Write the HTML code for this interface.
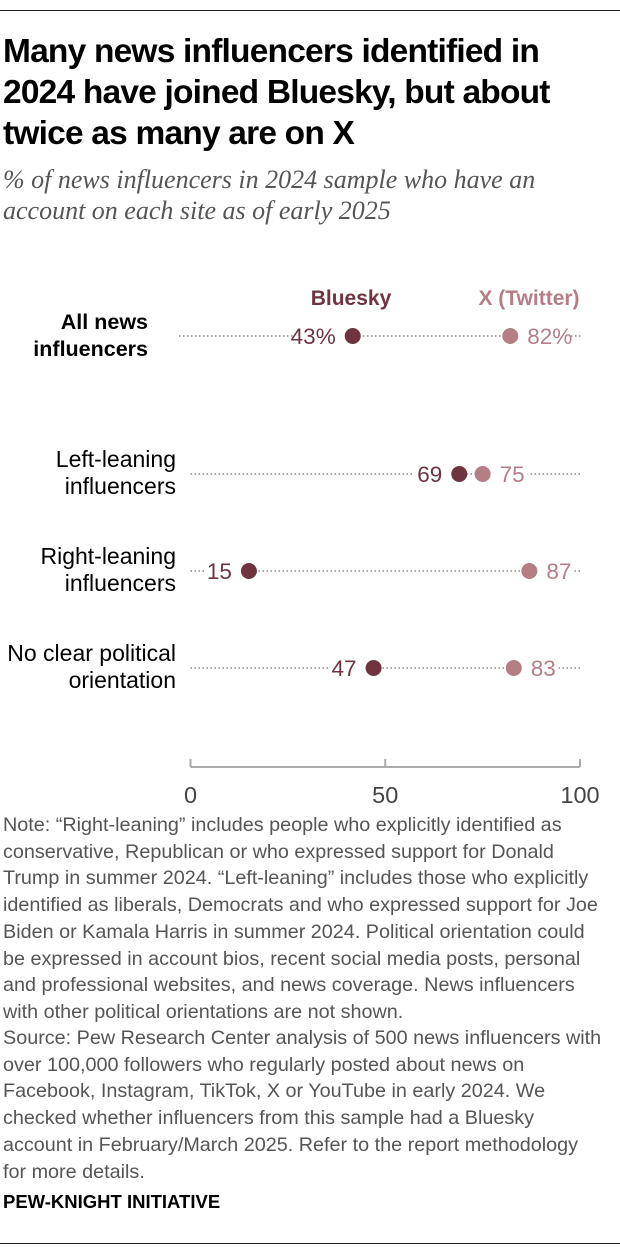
<!DOCTYPE html>
<html><head><meta charset="utf-8"><style>
body{margin:0;background:#fff;width:620px;height:1252px;position:relative;overflow:hidden;font-family:"Liberation Sans",sans-serif;}
.rule{position:absolute;left:0;width:620px;height:1px;background:#222;}
h1{position:absolute;left:3px;top:31px;margin:0;font-size:33.5px;line-height:41px;font-weight:bold;letter-spacing:-0.8px;color:#000;white-space:nowrap;}
.sub{position:absolute;left:3px;top:164px;font-family:"Liberation Serif",serif;font-style:italic;font-size:26px;line-height:31px;color:#555;white-space:nowrap;}
.note{position:absolute;left:3px;font-size:19.8px;line-height:26.7px;color:#555;white-space:nowrap;letter-spacing:0px;}
.pk{position:absolute;left:3px;top:1191px;font-size:18.5px;font-weight:bold;color:#000;}
</style></head><body>
<div class="rule" style="top:10px"></div>
<h1>Many news influencers identified in<br>2024 have joined Bluesky, but about<br>twice as many are on X</h1>
<div class="sub">% of news influencers in 2024 sample who have an<br>account on each site as of early 2025</div>
<svg id="chart" width="620" height="810" style="position:absolute;left:0;top:0"></svg>
<div class="note" style="top:812px">Note: “Right-leaning” includes people who explicitly identified as<br>conservative, Republican or who expressed support for Donald<br>Trump in summer 2024. “Left-leaning” includes those who explicitly<br>identified as liberals, Democrats and who expressed support for Joe<br>Biden or Kamala Harris in summer 2024. Political orientation could<br>be expressed in account bios, recent social media posts, personal<br>and professional websites, and news coverage. News influencers<br>with other political orientations are not shown.</div>
<div class="note" style="top:1025px">Source: Pew Research Center analysis of 500 news influencers with<br>over 100,000 followers who regularly posted about news on<br>Facebook, Instagram, TikTok, X or YouTube in early 2024. We<br>checked whether influencers from this sample had a Bluesky<br>account in February/March 2025. Refer to the report methodology<br>for more details.</div>
<div class="pk">PEW-KNIGHT INITIATIVE</div>
<div class="rule" style="top:1243px"></div>
<script>
const categories=[["All news","influencers"],["Left-leaning","influencers"],["Right-leaning","influencers"],["No clear political","orientation"]];
const blueskyValues=[43,69,15,47];
const xValues=[82,75,87,83];
const valueLabelsB=["43%","69","15","47"];
const valueLabelsX=["82%","75","87","83"];
const ticks=[0,50,100];
const rowY=[336,474,571,668];
const NS="http://www.w3.org/2000/svg";
const svg=document.getElementById('chart');
const CB="#6e3541",CX="#b57e87";
function xs(v,i){return i===0?179+v*4.04:190.5+v*3.895;}
function mk(t,a){const e=document.createElementNS(NS,t);for(const k in a)e.setAttribute(k,a[k]);svg.appendChild(e);return e;}
function txt(x,y,s,o){const e=mk('text',Object.assign({x:x,y:y,'font-family':'Liberation Sans, sans-serif','font-size':22.5},o));e.textContent=s;return e;}
let h=txt(351,305,"Bluesky",{fill:CB,'font-weight':'bold','font-size':21,'text-anchor':'middle'});

h=txt(529,305,"X (Twitter)",{fill:CX,'font-weight':'bold','font-size':21,'text-anchor':'middle'});

categories.forEach((c,i)=>{
 const y=rowY[i];
 const ax0=i===0?148:176;
 const fs=i===0?21.5:23;
 const lab=txt(ax0,y-7,c[0],{fill:'#000','text-anchor':'end','font-weight':i===0?'bold':'normal','font-size':fs});
 
 const l2=txt(ax0,y+20,c[1],{fill:'#000','text-anchor':'end','font-weight':i===0?'bold':'normal','font-size':fs});
 
 const bx=xs(blueskyValues[i],i),xx=xs(xValues[i],i),x0=xs(0,i),x1=xs(100,i);
 const lo=Math.min(bx,xx),hi=Math.max(bx,xx);
 const ln=mk('line',{x1:x0,x2:x1,y1:y,y2:y,stroke:'#888','stroke-width':1.5,'stroke-dasharray':'1.5 2.5'});
 
 const wb=valueLabelsB[i].length*13+14,wx=valueLabelsX[i].length*13+14;
 const rb=mk('rect',{x:lo-wb-5,y:y-12,width:wb,height:24,fill:'#fff'});
 
 const rx=mk('rect',{x:hi+5,y:y-12,width:wx,height:24,fill:'#fff'});
 
 const tb=txt(lo-17,y+8,valueLabelsB[i],{fill:CB,'text-anchor':'end'});
 
 const tx=txt(hi+17,y+8,valueLabelsX[i],{fill:CX});
 
 const dx=mk('circle',{cx:xx,cy:y,r:8,fill:CX});
 
 const db=mk('circle',{cx:bx,cy:y,r:8,fill:CB});
 
});
const ay=767;
const ax=mk('line',{x1:xs(0,1),x2:xs(100,1),y1:ay,y2:ay,stroke:'#aaa','stroke-width':2});

ticks.forEach(t=>{
 const tk=mk('line',{x1:xs(t,1),x2:xs(t,1),y1:ay-8,y2:ay,stroke:'#aaa','stroke-width':2});
 
 const tl=txt(xs(t,1),803,String(t),{fill:'#444','text-anchor':'middle','font-size':23.5});
 
});
</script>
</body></html>
